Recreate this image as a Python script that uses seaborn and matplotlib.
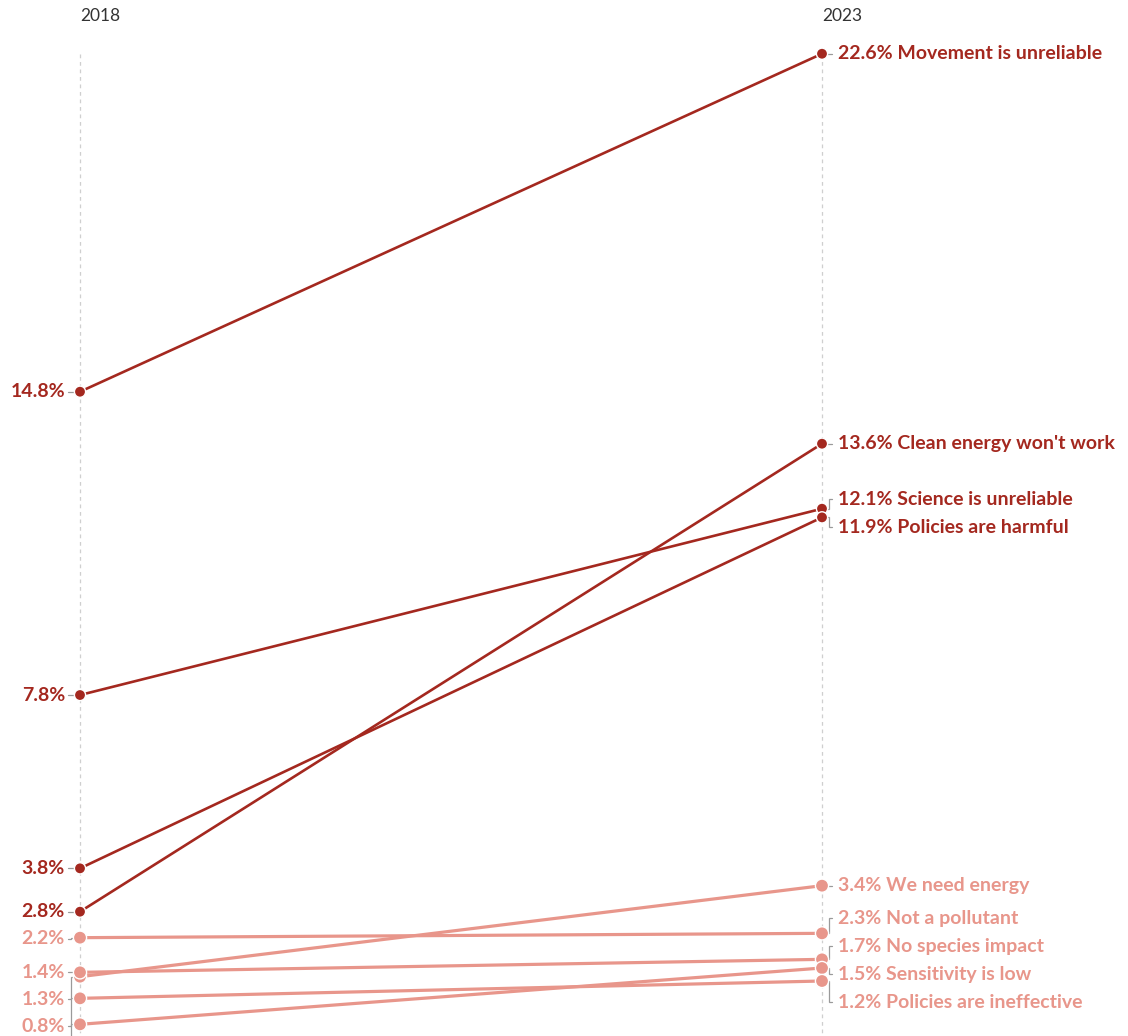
import matplotlib
matplotlib.use("Agg")
import matplotlib.pyplot as plt
import seaborn as sns
import pandas as pd
import numpy as np

# ---------------- data ----------------
topics = ["Movement is unreliable", "Clean energy won't work", "Science is unreliable",
          "Policies are harmful", "We need energy", "Not a pollutant",
          "No species impact", "Sensitivity is low", "Policies are ineffective"]
tones = ["dark", "dark", "dark", "dark", "light", "light", "light", "light", "light"]
v2018 = [14.8, 2.8, 7.8, 3.8, 1.3, 2.2, 1.4, 0.2, 0.8]
v2023 = [22.6, 13.6, 12.1, 11.9, 3.4, 2.3, 1.7, 1.5, 1.2]
years = ["2018", "2023"]

DARK = "#A4281F"
LIGHT = "#E8968B"
GRAY = "#9a9a9a"
palette = {"dark": DARK, "light": LIGHT}

rows = []
for t, tone, a, b in zip(topics, tones, v2018, v2023):
    rows.append(dict(topic=t, tone=tone, x=0, value=a))
    rows.append(dict(topic=t, tone=tone, x=1, value=b))
df = pd.DataFrame(rows)

# ---------------- figure ----------------
sns.set_theme(style="white")
plt.rcParams["font.family"] = ["Lato", "DejaVu Sans"]

W, H = 1128, 1036
fig = plt.figure(figsize=(W / 100, H / 100), dpi=100)
ax = fig.add_axes([0, 0, 1, 1])

PX_PER_X = 742.0          # pixels between the two year columns
PX_PER_Y = 43.33          # pixels per percentage point
X0 = 80.0                 # pixel position of 2018 column
Y0 = 1033.0               # pixel position of 0 %

dx = 1.0 / PX_PER_X
dy = 1.0 / PX_PER_Y

# lines
sns.lineplot(data=df, x="x", y="value", units="topic", estimator=None, hue="tone",
             palette=palette, size="tone", sizes={"dark": 1.9, "light": 2.3},
             legend=False, sort=False, ax=ax, zorder=2)
# points
sns.scatterplot(data=df, x="x", y="value", hue="tone", palette=palette, size="tone",
                sizes={"dark": 65, "light": 90}, edgecolor="white", linewidth=1.0,
                legend=False, ax=ax, zorder=3)
ax.set_xlim(-X0 / PX_PER_X, (W - X0) / PX_PER_X)
ax.set_ylim(-(H - Y0) / PX_PER_Y, Y0 / PX_PER_Y)
ax.axis("off")

# grid columns + year headers
for xc in (0, 1):
    ax.plot([xc, xc], [22.6, -1], ls=(0, (3, 3)), color="#cfcfcf", lw=0.9, zorder=0)
    ax.text(xc, (Y0 - 16) * dy, years[xc], ha="left", va="center",
            fontsize=12.5, color="#333333")

GAP = 27 * dy


def place_centered(vals, gap):
    order = np.argsort(vals)[::-1]
    clusters = []  # each: [list of idx, top]
    for i in order:
        clusters.append([[i], vals[i]])
        while len(clusters) > 1:
            a, b = clusters[-2], clusters[-1]
            a_bottom = a[1] - gap * (len(a[0]) - 1)
            if a_bottom - b[1] < gap:
                idx = a[0] + b[0]
                tops = [vals[j] + gap * k for k, j in enumerate(idx)]
                clusters[-2:] = [[idx, float(np.mean(tops))]]
            else:
                break
    pos = {}
    for idx, top in clusters:
        for k, j in enumerate(idx):
            pos[j] = top - gap * k
    return [pos[i] for i in range(len(vals))]


def place_down(vals, gap):
    order = np.argsort(vals)[::-1]
    pos = {}
    prev = None
    for i in order:
        p = vals[i] if prev is None else min(vals[i], prev - gap)
        pos[i] = p
        prev = p
    return [pos[i] for i in range(len(vals))]


left_pos = place_down(v2018, GAP)
right_pos = place_centered(v2023, 28 * dy)

FS = 14
for t, tone, a, b, la, lb in zip(topics, tones, v2018, v2023, left_pos, right_pos):
    col = palette[tone]
    # left label + connector
    if la > ax.get_ylim()[0] + 0.15:
        ax.text(-15 * dx, la, f"{a:.1f}%", ha="right", va="center", fontsize=FS,
                fontweight="bold", color=col)
    ax.plot([-6 * dx, -9 * dx, -9 * dx, -12 * dx], [a, a, la, la],
            color=GRAY, lw=0.9, zorder=1, solid_joinstyle="miter")
    # right label + connector
    ax.text(1 + 16 * dx, lb, f"{b:.1f}% {t}", ha="left", va="center", fontsize=FS,
            fontweight="bold", color=col)
    ax.plot([1 + 4 * dx, 1 + 7 * dx, 1 + 7 * dx, 1 + 10 * dx], [b, b, lb, lb],
            color=GRAY, lw=0.9, zorder=1, solid_joinstyle="miter")

fig.savefig("out.png", dpi=100, facecolor="white")
